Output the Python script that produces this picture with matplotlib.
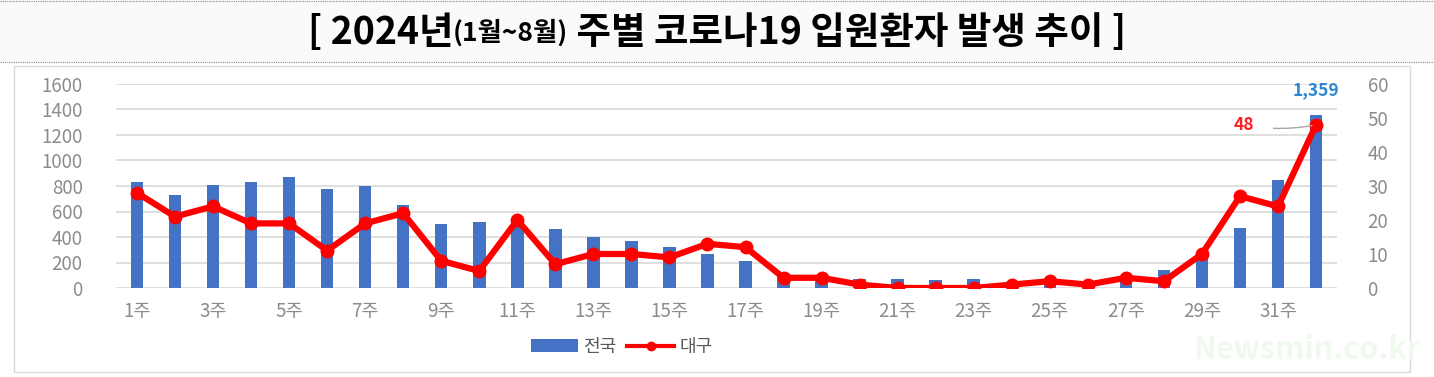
import matplotlib
matplotlib.use("Agg")
import matplotlib.pyplot as plt
from matplotlib.patches import Rectangle
from matplotlib.lines import Line2D

plt.rcParams['font.family'] = ['Noto Sans CJK KR', 'DejaVu Sans']

# data
weeks = list(range(1, 33))
week_labels = [f"{w}주" for w in weeks]
national = [830, 730, 810, 830, 870, 780, 800, 650, 500, 520,
            480, 460, 400, 365, 325, 265, 215, 100, 80, 70,
            70, 60, 70, 30, 50, 30, 60, 140, 240, 470,
            850, 1359]
daegu = [28, 21, 24, 19, 19, 11, 19, 22, 8, 5,
         20, 7, 10, 10, 9, 13, 12, 3, 3, 1,
         0, 0, 0, 1, 2, 1, 3, 2, 10, 27,
         24, 48]
left_ticks = [0, 200, 400, 600, 800, 1000, 1200, 1400, 1600]
right_ticks = [0, 10, 20, 30, 40, 50, 60]

W, H = 1434, 377
fig = plt.figure(figsize=(W / 100, H / 100), dpi=100)
fig.patch.set_facecolor('white')

# title band
fig.patches.append(Rectangle((0, 1 - 62 / H), 1, 62 / H, transform=fig.transFigure,
                             facecolor='#fafafa', edgecolor='none', zorder=0))
for yy in (1 - 1 / H, 1 - 62 / H):
    fig.lines.append(Line2D([0, 1], [yy, yy], transform=fig.transFigure,
                            color='#888888', lw=0.8, ls=(0, (1, 1))))
# chart frame
fig.patches.append(Rectangle((14 / W, 5 / H), (1410 - 14) / W, (311 - 5) / H,
                             transform=fig.transFigure, facecolor='none',
                             edgecolor='#d9d9d9', lw=1.0))

# title pieces
renderer = fig.canvas.get_renderer()
ty = 1 - 33 / H
pieces = [("[ 2024년", 27), ("(1월~8월)", 19), (" 주별 코로나19 입원환자 발생 추이 ]", 27)]
texts = [fig.text(0, ty, s, fontsize=fs, va='center', ha='left', color='#000000',
                  fontweight='bold') for s, fs in pieces]
widths = [t.get_window_extent(renderer).width / W for t in texts]
x = 0.5 - sum(widths) / 2
for t, w in zip(texts, widths):
    t.set_x(x)
    x += w

# axes
ax = fig.add_axes([116 / W, 1 - 288 / H, (1337 - 116) / W, (288 - 84) / H])
ax2 = ax.twinx()
ax.set_zorder(1)
ax2.set_zorder(2)
ax.patch.set_visible(False)

ax.bar(weeks, national, width=0.33, color='#4472C4', zorder=3, label='전국')
ax.set_ylim(0, 1600)
ax.set_yticks(left_ticks)
ax.set_xlim(0.45, 32.55)
ax.set_xticks(weeks[::2])
ax.set_xticklabels(week_labels[::2])
ax.grid(axis='y', color='#d9d9d9', lw=1.2, zorder=0)
ax.set_axisbelow(True)

ax2.plot(weeks, daegu, color='#ff0000', lw=4.5, marker='o', markersize=9, label='대구')
ax2.set_ylim(0, 60)
ax2.set_yticks(right_ticks)

for a in (ax, ax2):
    for sp in a.spines.values():
        sp.set_visible(False)
    a.tick_params(length=0, colors='#8c8c8c', labelsize=13.5)
ax.tick_params(axis='y', pad=24)
ax.tick_params(axis='x', pad=9)
ax2.tick_params(axis='y', pad=22)

# annotations
ax.annotate(f"{national[-1]:,}", (weeks[-1], national[-1]), xytext=(0, 18),
            textcoords='offset points', ha='center', va='center',
            color='#2e86d0', fontsize=12.5, fontweight='bold')
ax2.annotate(f"{daegu[-1]}", (weeks[-1], daegu[-1]), xytext=(-52, 0),
             textcoords='offset points', ha='center', va='center',
             color='#ff2020', fontsize=12.5, fontweight='bold',
             arrowprops=dict(arrowstyle='-', color='#a6a6a6', lw=1,
                             connectionstyle='arc3,rad=0.1', shrinkA=12, shrinkB=3))

# legend
h1, l1 = ax.get_legend_handles_labels()
h2, l2 = ax2.get_legend_handles_labels()
leg = fig.legend(h1 + h2, l1 + l2, loc='center', bbox_to_anchor=(622 / W, 1 - 347 / H),
                 ncol=2, frameon=False, fontsize=13, handlelength=2.6,
                 columnspacing=0.6, handletextpad=0.3)
for t in leg.get_texts():
    t.set_color('#595959')
leg.legend_handles[1].set_markersize(6)
leg.legend_handles[1].set_linewidth(3)

# watermark
fig.text(1420 / W, 1 - 350 / H, "Newsmin.co.kr", ha='right', va='center',
         fontsize=22, color='#f0f9ee', fontweight='bold')

fig.savefig('out.png', dpi=100)
